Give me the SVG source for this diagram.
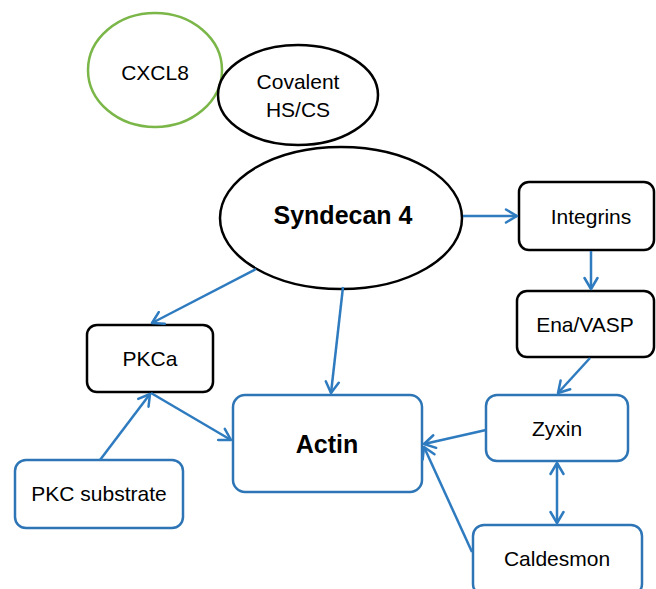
<svg xmlns="http://www.w3.org/2000/svg" width="656" height="589" viewBox="0 0 656 589">
<style>
text{font-family:"Liberation Sans",Arial,sans-serif;font-size:21px;fill:#000;text-anchor:middle}
.b{font-weight:bold}
.blk{fill:#fff;stroke:#000;stroke-width:2.5}
.blu{fill:#fff;stroke:#2e75b6;stroke-width:2.5}
.grn{fill:#fff;stroke:#7ab648;stroke-width:2.5}
.c line{stroke:#2e7bbf;stroke-width:2.5;marker-end:url(#a)}
</style>
<defs>
<marker id="a" viewBox="0 0 16 16" markerUnits="userSpaceOnUse" markerWidth="16" markerHeight="16" refX="14" refY="8" orient="auto-start-reverse">
<path d="M3,1.5 L14,8 L3,14.5" fill="none" stroke="#2e7bbf" stroke-width="2.5" stroke-linecap="round" stroke-linejoin="round"/>
</marker>
</defs>
<rect width="656" height="589" fill="#fff"/>
<g id="cxcl8"><ellipse class="grn" cx="155" cy="70" rx="67" ry="57"/><text x="155" y="80">CXCL8</text></g>
<g id="covalent"><ellipse class="blk" cx="298" cy="95" rx="80" ry="50"/><text x="298" y="89">Covalent</text><text x="298" y="117">HS/CS</text></g>
<g id="syndecan4"><ellipse class="blk" cx="341" cy="218" rx="121" ry="71"/><text class="b" x="343" y="224" style="font-size:25px">Syndecan 4</text></g>
<g id="integrins"><rect class="blk" x="519" y="182" width="135" height="68" rx="10"/><text x="591" y="224">Integrins</text></g>
<g id="enavasp"><rect class="blk" x="517" y="291" width="137" height="66" rx="10"/><text x="585" y="332">Ena/VASP</text></g>
<g id="pkca"><rect class="blk" x="87" y="325" width="126" height="67" rx="10"/><text x="150" y="366">PKCa</text></g>
<g id="actin"><rect class="blu" x="233" y="395" width="189" height="97" rx="12"/><text class="b" x="327" y="453" style="font-size:25px">Actin</text></g>
<g id="pkcsubstrate"><rect class="blu" x="15" y="460" width="168" height="68" rx="11"/><text x="99" y="501">PKC substrate</text></g>
<g id="zyxin"><rect class="blu" x="486" y="395" width="142" height="66" rx="11"/><text x="557" y="436">Zyxin</text></g>
<g id="caldesmon"><rect class="blu" x="473" y="525" width="169" height="70" rx="11"/><text x="557" y="566">Caldesmon</text></g>
<g id="connectors" class="c">
<line x1="463" y1="216" x2="517" y2="216"/>
<line x1="591" y1="251" x2="591" y2="289"/>
<line x1="590" y1="358" x2="558" y2="393"/>
<line x1="486" y1="430" x2="424" y2="444"/>
<line x1="472" y1="552" x2="424" y2="447"/>
<line x1="557" y1="463" x2="557" y2="523" style="marker-start:url(#a)"/>
<line x1="256" y1="269" x2="152" y2="323"/>
<line x1="343" y1="287" x2="331" y2="393"/>
<line x1="151" y1="393" x2="231" y2="440"/>
<line x1="100" y1="460" x2="150" y2="394"/>
</g>
</svg>
